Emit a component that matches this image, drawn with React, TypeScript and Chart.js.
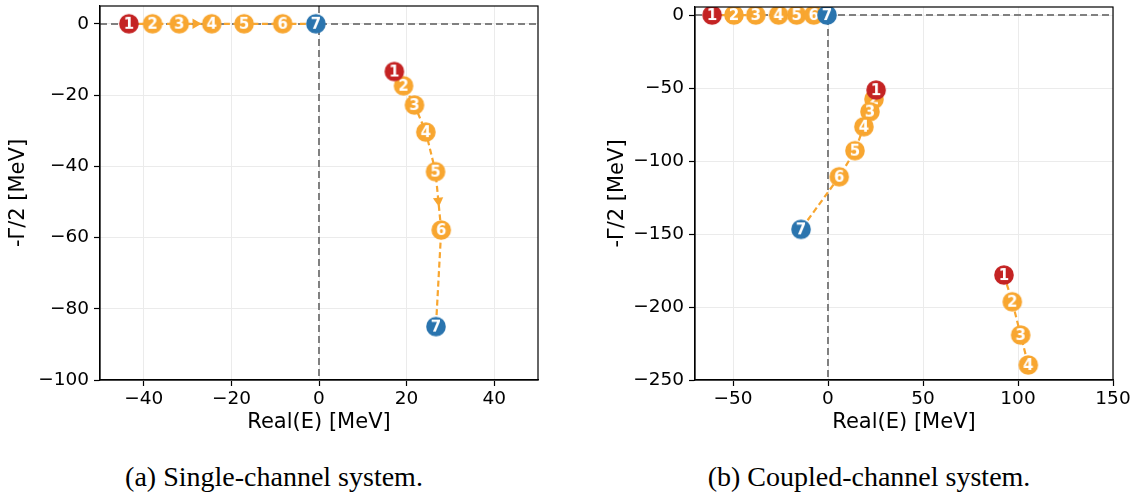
import React, { useEffect, useRef } from 'react';
import { Chart, registerables } from 'chart.js';
Chart.register(...registerables);

const ORANGE = '#f8a630';
const RED = '#c42323';
const BLUE = '#2a74ae';

// ---- (a) single-channel data ----
const leftTopX = [-43.4, -38.0, -31.9, -24.5, -17.1, -8.3, -0.7];
const leftTopY = [0, 0, 0, 0, 0, 0, 0];
const leftLowX = [17.2, 19.3, 21.8, 24.4, 26.6, 27.9, 26.7];
const leftLowY = [-13.4, -17.4, -22.8, -30.4, -41.5, -57.9, -85.0];
const leftXTicks = [-40, -20, 0, 20, 40];
const leftYTicks = [-100, -80, -60, -40, -20, 0];
// arrows: [trajectory index, segment start index]
const leftArrows: number[][] = [[0, 2], [1, 4]];

// ---- (b) coupled-channel data ----
const rightTopX = [-61.0, -49.5, -38.0, -26.0, -16.5, -7.5, -0.5];
const rightTopY = [0, 0, 0, 0, 0, 0, 0];
const rightMidX = [25.3, 24.2, 22.1, 18.9, 14.2, 5.9, -14.2];
const rightMidY = [-51.4, -57.7, -66.2, -76.5, -92.9, -110.8, -146.8];
const rightLowX = [92.6, 97.0, 101.4, 105.4];
const rightLowY = [-178.1, -196.4, -219.2, -239.7];
const rightXTicks = [-50, 0, 50, 100, 150];
const rightYTicks = [-250, -200, -150, -100, -50, 0];
const rightArrows: number[][] = [];

type Traj = { x: number[]; y: number[]; blueEnd: boolean };

const cache: Record<string, HTMLCanvasElement> = {};
function marker(color: string, label: string): HTMLCanvasElement {
  const key = color + label;
  if (cache[key]) return cache[key];
  const c = document.createElement('canvas');
  c.width = 22;
  c.height = 22;
  const g = c.getContext('2d')!;
  g.fillStyle = color;
  g.beginPath();
  g.arc(11, 11, 9.8, 0, Math.PI * 2);
  g.fill();
  g.fillStyle = '#ffffff';
  g.font = 'bold 15px "DejaVu Sans"';
  g.textAlign = 'center';
  g.textBaseline = 'alphabetic';
  g.fillText(label, 11, 11 + 0.36 * 15);
  cache[key] = c;
  return c;
}

const fmt = (v: number) => (v < 0 ? '\u2212' + Math.abs(v) : String(v));

interface PlotProps {
  width: number;
  height: number;
  trajs: Traj[];
  arrows: number[][];
  xMin: number;
  xMax: number;
  yMin: number;
  yMax: number;
  xTicks: number[];
  yTicks: number[];
  yAxisWidth: number;
  padRight: number;
  padTop: number;
  yTitlePad: number;
}

function Plot(p: PlotProps) {
  const ref = useRef<HTMLCanvasElement>(null);
  useEffect(() => {
    const datasets: any[] = [];
    const trajs = p.trajs;
    datasets.push({
      data: trajs.map((t) => ({ x: t.x[0], y: t.y[0] })),
      showLine: false,
      pointStyle: () => marker(RED, '1'),
      pointRadius: 9.8,
    });
    const ends = trajs.filter((t) => t.blueEnd);
    datasets.push({
      data: ends.map((t) => ({ x: t.x[t.x.length - 1], y: t.y[t.y.length - 1] })),
      showLine: false,
      pointStyle: (ctx: any) => marker(BLUE, String(ends[ctx.dataIndex].x.length)),
      pointRadius: 9.8,
    });
    datasets.push({
      data: p.arrows.map(([ti, si]) => {
        const t = trajs[ti];
        return { x: (t.x[si] + t.x[si + 1]) / 2, y: (t.y[si] + t.y[si + 1]) / 2 };
      }),
      showLine: false,
      pointStyle: 'triangle',
      pointRadius: 6,
      pointBackgroundColor: ORANGE,
      pointBorderWidth: 0,
      pointRotation: (ctx: any) => {
        const a = p.arrows[ctx.dataIndex];
        if (!a) return 0;
        const t = trajs[a[0]];
        const si = a[1];
        const xs = ctx.chart.scales.x;
        const ys = ctx.chart.scales.y;
        const dx = xs.getPixelForValue(t.x[si + 1]) - xs.getPixelForValue(t.x[si]);
        const dy = ys.getPixelForValue(t.y[si + 1]) - ys.getPixelForValue(t.y[si]);
        return (Math.atan2(dy, dx) * 180) / Math.PI + 90;
      },
    });
    trajs.forEach((t) => {
      const n = t.x.length;
      datasets.push({
        data: t.x.map((x, i) => ({ x, y: t.y[i] })),
        showLine: true,
        borderColor: ORANGE,
        borderWidth: 2.2,
        borderDash: [6, 3.5],
        pointRadius: (ctx: any) =>
          ctx.dataIndex === 0 || (t.blueEnd && ctx.dataIndex === n - 1) ? 0 : 9.8,
        pointStyle: (ctx: any) => marker(ORANGE, String(ctx.dataIndex + 1)),
      });
    });

    const refLines = {
      id: 'refLines',
      beforeDatasetsDraw(chart: any) {
        const { ctx, chartArea: a, scales } = chart;
        const x0 = Math.round(scales.x.getPixelForValue(0));
        const y0 = Math.round(scales.y.getPixelForValue(0));
        ctx.save();
        ctx.beginPath();
        ctx.rect(a.left, a.top, a.right - a.left, a.bottom - a.top);
        ctx.clip();
        ctx.strokeStyle = '#808080';
        ctx.lineWidth = 2;
        ctx.setLineDash([7, 4]);
        ctx.beginPath();
        ctx.moveTo(a.left, y0);
        ctx.lineTo(a.right, y0);
        ctx.moveTo(x0, a.top);
        ctx.lineTo(x0, a.bottom);
        ctx.stroke();
        ctx.restore();
      },
      afterDraw(chart: any) {
        const { ctx, chartArea: a } = chart;
        ctx.save();
        ctx.strokeStyle = '#000';
        ctx.lineWidth = 1.2;
        ctx.strokeRect(a.left, a.top, a.right - a.left, a.bottom - a.top);
        ctx.restore();
      },
    };

    const grid = { color: '#ebebeb', lineWidth: 1, tickLength: 6, tickColor: '#000', tickWidth: 1.2 };
    const chart = new Chart(ref.current!, {
      type: 'scatter',
      data: { datasets },
      plugins: [refLines],
      options: {
        animation: false,
        responsive: false,
        events: [],
        layout: { autoPadding: false, padding: { left: 0, right: p.padRight, top: p.padTop, bottom: 0 } },
        plugins: { legend: { display: false }, tooltip: { enabled: false } },
        scales: {
          x: {
            type: 'linear',
            min: p.xMin,
            max: p.xMax,
            afterBuildTicks: (s: any) => {
              s.ticks = p.xTicks.map((v) => ({ value: v }));
            },
            afterFit: (s: any) => {
              s.height = 65;
              s.paddingLeft = 0;
              s.paddingRight = 0;
            },
            ticks: {
              font: { size: 18.5, family: 'DejaVu Sans' },
              color: '#000',
              padding: 2,
              maxRotation: 0,
              minRotation: 0,
              autoSkip: false,
              callback: (v: any) => fmt(Number(v)),
            },
            grid,
            border: { color: '#000', width: 1.2 },
            title: {
              display: true,
              text: 'Real(E) [MeV]',
              color: '#000',
              font: { size: 21, family: 'DejaVu Sans' },
              padding: { top: 0, bottom: 9.4 },
            },
          },
          y: {
            type: 'linear',
            min: p.yMin,
            max: p.yMax,
            afterBuildTicks: (s: any) => {
              s.ticks = p.yTicks.map((v) => ({ value: v }));
            },
            afterFit: (s: any) => {
              s.width = p.yAxisWidth;
              s.paddingTop = 0;
              s.paddingBottom = 0;
            },
            ticks: {
              font: { size: 18.5, family: 'DejaVu Sans' },
              color: '#000',
              padding: 5,
              autoSkip: false,
              callback: (v: any) => fmt(Number(v)),
            },
            grid,
            border: { color: '#000', width: 1.2 },
            title: {
              display: true,
              text: '-\u0393/2 [MeV]',
              color: '#000',
              font: { size: 21, family: 'DejaVu Sans' },
              padding: { top: p.yTitlePad, bottom: 0 },
            },
          },
        },
      } as any,
    });
    return () => chart.destroy();
  }, []);
  return <canvas ref={ref} width={p.width} height={p.height} style={{ display: 'block' }} />;
}

const leftTrajs: Traj[] = [
  { x: leftTopX, y: leftTopY, blueEnd: true },
  { x: leftLowX, y: leftLowY, blueEnd: true },
];
const rightTrajs: Traj[] = [
  { x: rightTopX, y: rightTopY, blueEnd: true },
  { x: rightMidX, y: rightMidY, blueEnd: true },
  { x: rightLowX, y: rightLowY, blueEnd: false },
];

const captionStyle: React.CSSProperties = {
  position: 'absolute',
  width: 500,
  textAlign: 'center',
  fontFamily: '"Liberation Serif", serif',
  fontSize: 28,
  lineHeight: '28px',
  color: '#000',
  whiteSpace: 'nowrap',
};

export default function App() {
  return (
    <div style={{ position: 'absolute', left: 0, top: 0, width: 1141, height: 493, background: '#fff', overflow: 'hidden' }}>
      <div style={{ position: 'absolute', left: 0, top: 0 }}>
        <Plot
          width={570}
          height={445}
          trajs={leftTrajs}
          arrows={leftArrows}
          xMin={-50}
          xMax={50}
          yMin={-100}
          yMax={5}
          xTicks={leftXTicks}
          yTicks={leftYTicks}
          yAxisWidth={100}
          padRight={32}
          padTop={6}
          yTitlePad={5.8}
        />
      </div>
      <div style={{ position: 'absolute', left: 580, top: 0 }}>
        <Plot
          width={561}
          height={445}
          trajs={rightTrajs}
          arrows={rightArrows}
          xMin={-70}
          xMax={150}
          yMin={-250}
          yMax={5.5}
          xTicks={rightXTicks}
          yTicks={rightYTicks}
          yAxisWidth={115}
          padRight={28}
          padTop={7}
          yTitlePad={25}
        />
      </div>
      <div style={{ ...captionStyle, left: 274 - 250, top: 463 }}>(a) Single-channel system.</div>
      <div style={{ ...captionStyle, left: 869 - 250, top: 463 }}>(b) Coupled-channel system.</div>
    </div>
  );
}
